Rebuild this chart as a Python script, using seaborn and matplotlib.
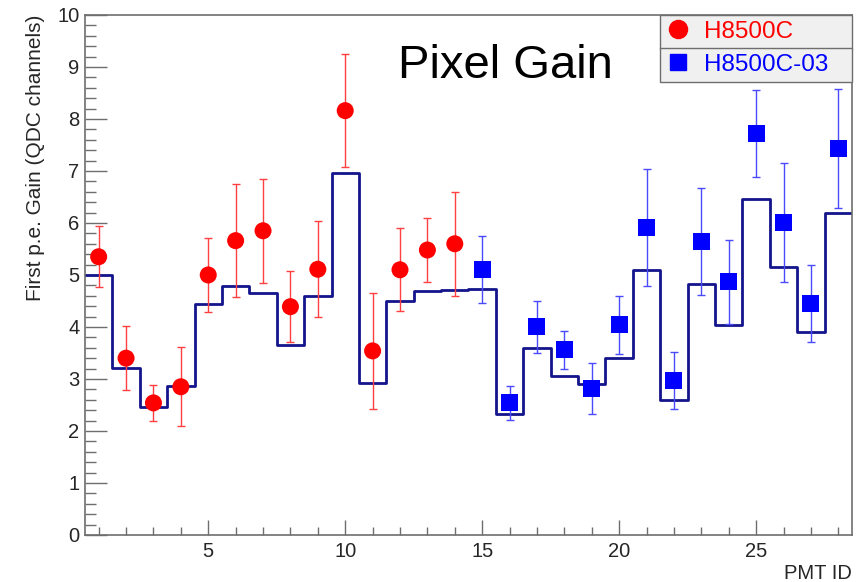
import numpy as np
import pandas as pd
import matplotlib
matplotlib.use("Agg")
import matplotlib.pyplot as plt
from matplotlib.ticker import MultipleLocator
import seaborn as sns

# PMT IDs und Werte
pmt_ids = list(range(1, 29))
hist_gain = [5.00, 3.22, 2.46, 2.87, 4.44, 4.78, 4.65, 3.65, 4.59, 6.97,
             2.92, 4.50, 4.69, 4.72, 4.73, 2.32, 3.59, 3.06, 2.90, 3.41,
             5.10, 2.59, 4.82, 4.04, 6.47, 5.15, 3.90, 6.19]

ids_c = list(range(1, 15))
gain_c = [5.35, 3.40, 2.54, 2.85, 5.00, 5.66, 5.85, 4.39, 5.11, 8.16,
          3.54, 5.10, 5.48, 5.60]
err_c = [0.59, 0.61, 0.34, 0.76, 0.71, 1.08, 1.00, 0.68, 0.92, 1.09,
         1.11, 0.80, 0.62, 1.00]

ids_03 = list(range(15, 29))
gain_03 = [5.11, 2.54, 4.00, 3.56, 2.81, 4.04, 5.91, 2.97, 5.64, 4.87,
           7.72, 6.01, 4.45, 7.43]
err_03 = [0.64, 0.33, 0.50, 0.37, 0.49, 0.56, 1.12, 0.55, 1.03, 0.81,
          0.83, 1.15, 0.74, 1.15]

labels = ['H8500C', 'H8500C-03']

df_h = pd.DataFrame({'PMT': pmt_ids, 'Gain': hist_gain})
df_c = pd.DataFrame({'PMT': ids_c, 'Gain': gain_c, 'Err': err_c})
df_03 = pd.DataFrame({'PMT': ids_03, 'Gain': gain_03, 'Err': err_03})

sns.set_style("ticks")
plt.rcParams['font.family'] = ['Liberation Sans', 'DejaVu Sans']

fig = plt.figure(figsize=(8.6, 5.82), dpi=100)
ax = fig.add_axes([0.0988, 0.0808, 0.8919, 0.8935])

hist_col = '#14148c'
# Histogramm (Schrittlinie)
try:
    sns.histplot(data=df_h, x='PMT', weights='Gain', discrete=True,
                 element='step', fill=False, color=hist_col, linewidth=2,
                 ax=ax)
except ValueError:
    ax.stairs(df_h['Gain'], np.append(df_h['PMT'] - 0.5, df_h['PMT'].iloc[-1] + 0.5),
              color=hist_col, linewidth=2)

# Fehlerbalken
ax.errorbar(df_c['PMT'], df_c['Gain'], yerr=df_c['Err'], fmt='none',
            ecolor='#ff4040', elinewidth=1, capsize=3, capthick=1, zorder=3)
ax.errorbar(df_03['PMT'], df_03['Gain'], yerr=df_03['Err'], fmt='none',
            ecolor='#4a4aff', elinewidth=1, capsize=3, capthick=1, zorder=3)

# Punkte
sns.scatterplot(data=df_c, x='PMT', y='Gain', marker='o', s=150,
                color='#ff0000', edgecolor='none', ax=ax, zorder=4)
sns.scatterplot(data=df_03, x='PMT', y='Gain', marker='s', s=150,
                color='#0000ff', edgecolor='none', ax=ax, zorder=4)

ax.set_xlim(0.5, 28.5)
ax.set_ylim(0, 10)

ax.xaxis.set_major_locator(MultipleLocator(5))
ax.xaxis.set_minor_locator(MultipleLocator(1))
ax.yaxis.set_major_locator(MultipleLocator(1))
ax.yaxis.set_minor_locator(MultipleLocator(0.2))

frame_col = '#6e6e6e'
for sp in ax.spines.values():
    sp.set_visible(True)
    sp.set_color(frame_col)
    sp.set_linewidth(1.2)

ax.tick_params(axis='y', which='major', direction='in', length=16, width=1,
               color=frame_col, labelsize=14.5, pad=4)
ax.tick_params(axis='y', which='minor', direction='in', length=8, width=1,
               color=frame_col)
ax.tick_params(axis='x', which='major', direction='in', length=11, width=1,
               color=frame_col, labelsize=14.5, pad=5)
ax.tick_params(axis='x', which='minor', direction='in', length=6, width=1,
               color=frame_col)

ax.set_xlabel('PMT ID', loc='right', fontsize=14.5, labelpad=2)
ax.set_ylabel('First p.e. Gain (QDC channels)', loc='top', fontsize=15,
              labelpad=9)

ax.text(0.408, 0.879, 'Pixel Gain', transform=ax.transAxes, fontsize=34,
        ha='left', va='baseline', color='black')

# Legende: zwei gestapelte Kästen
h_c = plt.Line2D([], [], marker='o', color='#ff0000', linestyle='none',
                 markersize=13)
h_03 = plt.Line2D([], [], marker='s', color='#0000ff', linestyle='none',
                  markersize=12)
box_h = 33 / 520
leg_kw = dict(loc='upper left', mode='expand', borderaxespad=0,
              fontsize=17.5, frameon=True, fancybox=False, framealpha=1,
              facecolor='#f0f0f0', edgecolor=frame_col, handlelength=1.0,
              handletextpad=0.55, borderpad=0.24)
leg1 = ax.legend([h_c], [labels[0]], labelcolor=['#ff0000'],
                 bbox_to_anchor=(0.75, 1 - 0.2, 0.25, 0.2), **leg_kw)
ax.add_artist(leg1)
leg2 = ax.legend([h_03], [labels[1]], labelcolor=['#0000ff'],
                 bbox_to_anchor=(0.75, 1 - box_h - 0.2, 0.25, 0.2), **leg_kw)

plt.savefig('out.png', dpi=100)
